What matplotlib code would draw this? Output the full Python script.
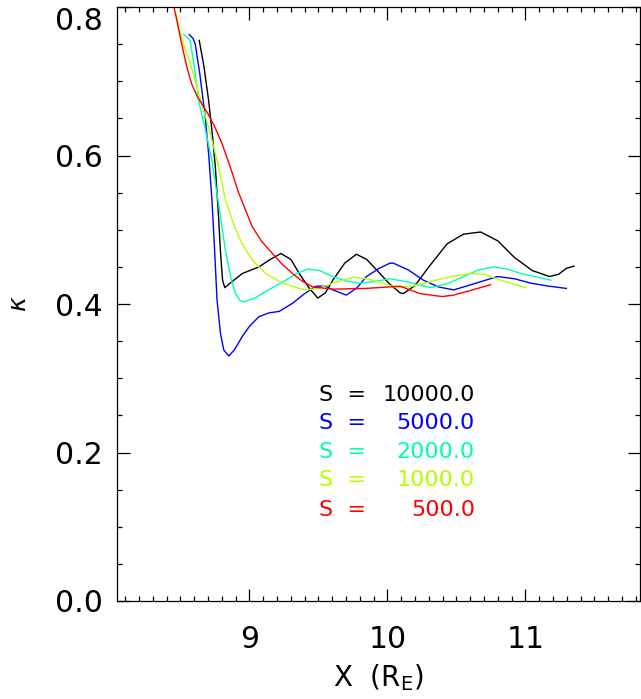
import matplotlib
matplotlib.use('Agg')
import matplotlib.pyplot as plt
from matplotlib.ticker import MultipleLocator

# values (x in R_E, kappa)
s_values = [10000.0, 5000.0, 2000.0, 1000.0, 500.0]
colors = ['#000000', '#0000ff', '#00ffb0', '#b4ff00', '#ff0000']

x_s10000 = [8.636, 8.670, 8.704, 8.730, 8.753, 8.775, 8.790, 8.805, 8.821, 8.860, 8.947,
            9.069, 9.150, 9.228, 9.300, 9.361, 9.430, 9.495, 9.550, 9.604, 9.690,
            9.775, 9.850, 9.921, 10.010, 10.091, 10.115, 10.200, 10.300, 10.432,
            10.550, 10.675, 10.800, 10.918, 11.050, 11.174, 11.240, 11.296, 11.352]
y_s10000 = [0.755, 0.720, 0.674, 0.630, 0.584, 0.520, 0.470, 0.432, 0.422, 0.428, 0.441,
            0.450, 0.460, 0.468, 0.460, 0.441, 0.422, 0.408, 0.415, 0.432, 0.455,
            0.467, 0.460, 0.446, 0.428, 0.415, 0.414, 0.425, 0.450, 0.481,
            0.494, 0.497, 0.485, 0.463, 0.445, 0.437, 0.440, 0.448, 0.451]

x_s5000 = [8.563, 8.590, 8.607, 8.640, 8.680, 8.705, 8.728, 8.748, 8.765, 8.790, 8.814,
           8.850, 8.890, 8.947, 9.000, 9.069, 9.140, 9.215, 9.312, 9.400, 9.483,
           9.550, 9.604, 9.702, 9.780, 9.848, 9.940, 10.018, 10.042, 10.150, 10.261,
           10.370, 10.480, 10.640, 10.797, 10.920, 11.040, 11.170, 11.296]
y_s5000 = [0.763, 0.758, 0.750, 0.710, 0.651, 0.600, 0.540, 0.470, 0.405, 0.360, 0.338,
           0.330, 0.338, 0.356, 0.370, 0.383, 0.388, 0.390, 0.401, 0.414, 0.424,
           0.424, 0.419, 0.412, 0.422, 0.437, 0.448, 0.455, 0.455, 0.446, 0.432,
           0.423, 0.419, 0.428, 0.437, 0.434, 0.428, 0.424, 0.421]

x_s2000 = [8.522, 8.545, 8.571, 8.600, 8.631, 8.680, 8.728, 8.780, 8.826, 8.865, 8.899,
           8.930, 8.960, 9.040, 9.118, 9.264, 9.340, 9.422, 9.510, 9.604, 9.700,
           9.799, 9.900, 10.018, 10.140, 10.310, 10.430, 10.553, 10.660, 10.772,
           10.870, 10.967, 11.186]
y_s2000 = [0.763, 0.760, 0.754, 0.720, 0.674, 0.635, 0.593, 0.530, 0.472, 0.435, 0.414,
           0.405, 0.403, 0.408, 0.417, 0.432, 0.441, 0.447, 0.445, 0.437, 0.431,
           0.428, 0.430, 0.434, 0.430, 0.422, 0.427, 0.437, 0.446, 0.450,
           0.447, 0.441, 0.432]

x_s1000 = [8.466, 8.500, 8.530, 8.558, 8.600, 8.650, 8.704, 8.770, 8.826, 8.890, 8.947,
           9.030, 9.118, 9.240, 9.361, 9.410, 9.500, 9.604, 9.750, 9.850, 9.969,
           10.067, 10.180, 10.310, 10.460, 10.602, 10.700, 10.821, 11.004]
y_s1000 = [0.792, 0.765, 0.745, 0.732, 0.705, 0.672, 0.638, 0.590, 0.540, 0.505, 0.481,
           0.457, 0.441, 0.428, 0.421, 0.419, 0.421, 0.428, 0.436, 0.434, 0.428,
           0.422, 0.424, 0.430, 0.437, 0.441, 0.440, 0.432, 0.422]

x_s500 = [8.430, 8.470, 8.509, 8.545, 8.582, 8.620, 8.653, 8.700, 8.750, 8.801, 8.860,
          8.923, 9.020, 9.090, 9.166, 9.240, 9.312, 9.380, 9.458, 9.604, 9.848,
          10.091, 10.237, 10.396, 10.480, 10.578, 10.748]
y_s500 = [0.820, 0.785, 0.750, 0.720, 0.696, 0.680, 0.670, 0.656, 0.638, 0.616, 0.585,
          0.549, 0.504, 0.484, 0.468, 0.453, 0.441, 0.431, 0.423, 0.420, 0.421,
          0.424, 0.414, 0.410, 0.412, 0.417, 0.426]

xs = [x_s10000, x_s5000, x_s2000, x_s1000, x_s500]
ys = [y_s10000, y_s5000, y_s2000, y_s1000, y_s500]

fig = plt.figure(figsize=(6.41, 6.99), dpi=100)
ax = fig.add_axes([117 / 641, 1 - 601 / 699, 523 / 641, 594 / 699])

for x, y, c in zip(xs, ys, colors):
    ax.plot(x, y, color=c, lw=1.0)

ax.set_xlim(8.04, 11.83)
ax.set_ylim(0.0, 0.8)
ax.xaxis.set_major_locator(MultipleLocator(1))
ax.xaxis.set_minor_locator(MultipleLocator(0.1))
ax.set_yticks([0.0, 0.2, 0.4, 0.6, 0.8])
ax.set_yticklabels(['0.0', '0.2', '0.4', '0.6', '0.8'])
ax.yaxis.set_minor_locator(MultipleLocator(0.05))
ax.tick_params(which='both', direction='in', top=True, right=True, width=0.9)
ax.tick_params(which='major', length=9)
ax.tick_params(which='minor', length=3.6)
ax.tick_params(axis='x', labelsize=21.5, pad=17)
ax.tick_params(axis='y', labelsize=21.5, pad=10.5)
for sp in ax.spines.values():
    sp.set_linewidth(0.9)
# top label sits inside the figure, hanging from the top edge
ax.get_yticklabels()[-1].set_verticalalignment('top')

ax.set_xlabel(r'X  (R$_{\rm E}$)', fontsize=20, labelpad=6)
ax.set_ylabel(r'$\kappa$', fontsize=18, labelpad=17)

# legend text in the plot
row_y = [395, 423, 452, 480, 510]
for s, c, py in zip(s_values, colors, row_y):
    fig.text(319 / 641, 1 - py / 699, 'S  =', color=c, fontsize=16, va='center', ha='left')
    fig.text(475 / 641, 1 - py / 699, f'{s:.1f}', color=c, fontsize=16, va='center', ha='right')

fig.savefig('out.png', dpi=100)
